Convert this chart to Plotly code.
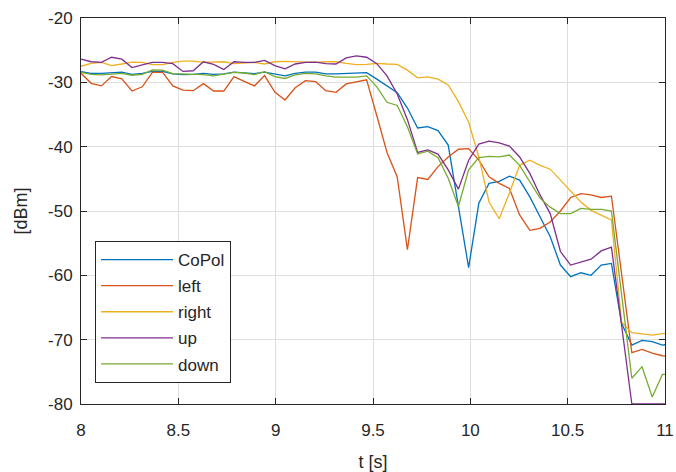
import plotly.graph_objects as go

# Sample times [s] (uniform sampling, ~19 Hz)
n_samples = 59
t = [round(8 + 0.0524 * k, 4) for k in range(n_samples)]

copol = [-28.35, -28.6, -28.6, -28.45, -28.4, -28.75, -28.6, -28.3, -28.3, -28.7,
         -28.8, -28.75, -28.6, -28.75, -28.7, -28.4, -28.55, -28.65, -28.4, -28.75,
         -29.0, -28.6, -28.4, -28.4, -28.7, -28.7, -28.6, -28.5, -28.5, -29.5,
         -30.6, -31.6, -34.0, -37.1, -36.9, -37.5, -39.75, -49.0, -58.8, -48.8,
         -45.7, -45.4, -44.6, -45.2, -47.8, -50.9, -54.0, -58.4, -60.2, -59.6,
         -60.0, -58.4, -58.15, -67.5, -70.85, -70.1, -70.3, -70.85, -70.6]

left = [-28.6, -30.15, -30.55, -29.1, -29.45, -31.35, -30.7, -28.45, -28.45, -30.55,
        -31.2, -31.3, -30.2, -31.35, -31.35, -29.1, -29.85, -30.55, -28.95, -31.5,
        -32.75, -30.85, -29.75, -29.9, -31.3, -31.55, -30.25, -29.9, -29.6, -35.2,
        -40.9, -44.7, -56.0, -44.8, -45.1, -43.1, -41.6, -40.4, -40.3, -42.1,
        -44.7, -45.7, -46.5, -50.6, -53.0, -52.7, -51.7, -50.0, -47.9, -47.3,
        -47.5, -47.9, -47.7, -59.8, -72.0, -71.5, -72.1, -72.5, -72.6]

right = [-27.5, -27.05, -26.9, -27.4, -27.15, -26.85, -26.9, -27.25, -27.25, -26.9,
         -26.7, -26.7, -26.9, -26.85, -26.8, -27.1, -27.05, -26.9, -27.15, -26.8,
         -26.75, -26.8, -26.9, -26.9, -26.8, -26.8, -27.05, -27.25, -27.2, -27.05,
         -27.15, -27.2, -28.1, -29.3, -29.15, -29.5, -30.4, -33.0, -36.2, -41.6,
         -48.6, -51.2, -47.2, -42.9, -42.1, -42.9, -43.5, -45.2, -47.0, -48.6,
         -49.9, -50.6, -51.4, -67.3, -68.9, -69.1, -69.3, -69.05, -68.9]

up = [-26.4, -26.8, -26.9, -26.1, -26.4, -27.7, -27.3, -26.9, -26.9, -27.1,
      -28.3, -28.2, -26.8, -27.2, -28.0, -26.8, -26.9, -26.9, -26.6, -27.4,
      -27.9, -27.15, -26.9, -26.85, -27.1, -27.15, -26.2, -25.9, -26.1, -27.1,
      -29.0, -31.8, -35.8, -40.9, -40.5, -41.15, -43.6, -46.6, -42.1, -39.6,
      -39.15, -39.4, -39.9, -41.6, -44.15, -47.5, -50.4, -56.3, -58.4, -57.9,
      -57.5, -56.2, -55.6, -67.8, -80.0, -80.0, -80.0, -80.0, -80.0]

down = [-28.45, -28.75, -28.85, -28.75, -28.6, -28.9, -28.75, -28.05, -28.1, -28.65,
        -28.7, -28.7, -28.8, -29.0, -28.75, -28.45, -28.55, -28.8, -28.35, -29.1,
        -29.4, -28.85, -28.6, -28.7, -29.0, -29.2, -29.2, -29.2, -29.0, -30.7,
        -33.1, -33.6, -36.9, -41.15, -40.7, -41.7, -44.9, -49.3, -43.6, -41.7,
        -41.5, -41.6, -41.3, -42.9, -45.45, -48.0, -49.4, -50.4, -50.4, -49.6,
        -49.75, -49.75, -50.0, -63.0, -76.0, -74.2, -78.9, -75.4, -75.4]

series = [
    ("CoPol", copol, "#0072BD"),
    ("left", left, "#D95319"),
    ("right", right, "#EDB120"),
    ("up", up, "#7E2F8E"),
    ("down", down, "#77AC30"),
]

x_ticks = [8, 8.5, 9, 9.5, 10, 10.5, 11]
y_ticks = [-20, -30, -40, -50, -60, -70, -80]

FONT = "Liberation Sans, Arial, sans-serif"
INK = "#262626"

fig = go.Figure()
for i, (name, vals, color) in enumerate(series):
    fig.add_trace(go.Scatter(
        x=t, y=vals, mode="lines", name=name,
        line=dict(color=color, width=1.3),
        legendgroup=f"g{i}",
    ))

axis_common = dict(
    showline=True, linecolor=INK, linewidth=1, mirror="allticks",
    ticks="inside", ticklen=6, tickcolor=INK, tickwidth=1,
    showgrid=True, gridcolor="#dedede", gridwidth=1,
    zeroline=False, layer="below traces", automargin=False,
    tickfont=dict(family=FONT, size=17, color=INK),
)

fig.update_layout(
    width=676, height=472,
    margin=dict(l=81, r=11, t=18, b=68),
    paper_bgcolor="white", plot_bgcolor="white",
    font=dict(family=FONT, size=17, color=INK),
    xaxis=dict(
        range=[8, 11], tickvals=x_ticks,
        ticktext=[f"{v:g}" for v in x_ticks],
        ticklabelstandoff=11,
        title=dict(text="t [s]", font=dict(family=FONT, size=18, color=INK), standoff=16),
        **axis_common,
    ),
    yaxis=dict(
        range=[-80, -20], tickvals=y_ticks,
        ticktext=[f"{v:g}" for v in y_ticks],
        ticklabelstandoff=4,
        title=dict(text="[dBm]", font=dict(family=FONT, size=18, color=INK), standoff=15),
        **axis_common,
    ),
    legend=dict(
        x=0.024, y=0.4223, xanchor="left", yanchor="top",
        bgcolor="white", bordercolor=INK, borderwidth=1,
        font=dict(family=FONT, size=17, color=INK),
        tracegroupgap=1, itemwidth=72,
        entrywidth=56, entrywidthmode="pixels",
    ),
    showlegend=True,
)

fig.write_html("out.html")
